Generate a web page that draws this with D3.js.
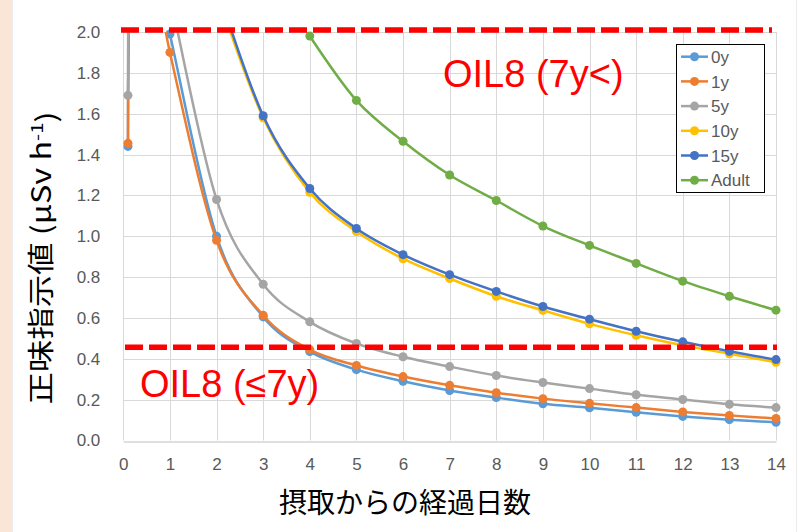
<!DOCTYPE html>
<html>
<head>
<meta charset="utf-8">
<script src="https://cdn.jsdelivr.net/npm/d3@7"></script>
<style>
  html, body { margin: 0; padding: 0; background: #ffffff; }
  svg { display: block; }
</style>
</head>
<body>
<svg id="chart" width="798" height="532"></svg>
<script>
// Days elapsed since intake (0.1 d and 0.25 d are the early measurements)
const days = [0.1, 0.25, 1, 2, 3, 4, 5, 6, 7, 8, 9, 10, 11, 12, 13, 14];

// Net reading (µSv/h) per age group; null = no value at that day
const seriesNames = ["0y", "1y", "5y", "10y", "15y", "Adult"];
const seriesColors = ["#5B9BD5", "#ED7D31", "#A5A5A5", "#FFC000", "#4472C4", "#70AD47"];
const values0y    = [1.44, 2.80, 1.99, 1.00, 0.605, 0.435, 0.347, 0.290, 0.245, 0.210, 0.180, 0.160, 0.138, 0.118, 0.102, 0.089];
const values1y    = [1.455, 2.75, 1.90, 0.98, 0.613, 0.445, 0.367, 0.313, 0.270, 0.234, 0.205, 0.182, 0.161, 0.140, 0.123, 0.108];
const values5y    = [1.69, 3.00, 2.18, 1.18, 0.765, 0.581, 0.475, 0.410, 0.362, 0.318, 0.284, 0.254, 0.224, 0.201, 0.177, 0.161];
const values10y   = [null, null, null, 2.20, 1.580, 1.215, 1.023, 0.890, 0.793, 0.706, 0.637, 0.571, 0.515, 0.466, 0.425, 0.383];
const values15y   = [null, null, null, 2.23, 1.590, 1.234, 1.038, 0.910, 0.812, 0.730, 0.656, 0.594, 0.535, 0.483, 0.437, 0.396];
const valuesAdult = [null, null, null, null, 2.35, 1.980, 1.665, 1.465, 1.300, 1.175, 1.050, 0.955, 0.867, 0.780, 0.706, 0.638];
const seriesValues = [values0y, values1y, values5y, values10y, values15y, valuesAdult];

// Axis ticks
const xTicks = [0, 1, 2, 3, 4, 5, 6, 7, 8, 9, 10, 11, 12, 13, 14];
const yTicks = [0.0, 0.2, 0.4, 0.6, 0.8, 1.0, 1.2, 1.4, 1.6, 1.8, 2.0];

// OIL8 reference levels
const oilLevels = [
  { level: 2.01, label: "OIL8 (7y<)" },
  { level: 0.456, label: "OIL8 (\u22647y)" }
];

const svg = d3.select("#chart");
const W = 798, H = 532;

// Slide background strip on the left and chart area
svg.append("rect").attr("x", 0).attr("y", 0).attr("width", W).attr("height", H).attr("fill", "#ffffff");
svg.append("rect").attr("x", 0).attr("y", 0).attr("width", 12).attr("height", H).attr("fill", "#FBE5D6");
svg.append("line").attr("x1", 12.5).attr("x2", 12.5).attr("y1", 0).attr("y2", H)
  .attr("stroke", "#ececec").attr("stroke-width", 1);
svg.append("line").attr("x1", 796.5).attr("x2", 796.5).attr("y1", 0).attr("y2", H)
  .attr("stroke", "#ececec").attr("stroke-width", 1);

const x = d3.scaleLinear().domain([0, 14]).range([123.3, 776]);
const y = d3.scaleLinear().domain([0, 2]).range([440.5, 32]);

const tickFont = "'Liberation Sans', Arial, sans-serif";

// Gridlines
svg.append("g").selectAll("line.h").data(yTicks.filter(v => v > 0)).join("line")
  .attr("x1", x(0)).attr("x2", x(14))
  .attr("y1", d => Math.round(y(d)) + 0.5).attr("y2", d => Math.round(y(d)) + 0.5)
  .attr("stroke", "#d9d9d9").attr("stroke-width", 1);
svg.append("g").selectAll("line.v").data(xTicks).join("line")
  .attr("x1", d => Math.round(x(d)) + 0.5).attr("x2", d => Math.round(x(d)) + 0.5)
  .attr("y1", y(2)).attr("y2", y(0))
  .attr("stroke", "#d9d9d9").attr("stroke-width", 1);

// Axes (labels only, no tick marks)
const xAxis = d3.axisBottom(x).tickValues(xTicks).tickSize(0).tickPadding(16).tickFormat(d3.format("d"));
const gx = svg.append("g").attr("transform", `translate(0,${Math.round(y(0)) + 0.5})`).call(xAxis);
gx.select(".domain").attr("stroke", "#bfbfbf").attr("stroke-width", 1);
gx.selectAll("text").attr("fill", "#595959").style("font-family", tickFont).style("font-size", "17px");

const yAxis = d3.axisLeft(y).tickValues(yTicks).tickSize(0).tickPadding(23).tickFormat(d3.format(".1f"));
const gy = svg.append("g").attr("transform", `translate(${x(0)},0)`).call(yAxis);
gy.select(".domain").remove();
gy.selectAll("text").attr("fill", "#595959").style("font-family", tickFont).style("font-size", "17px");

// Series lines (smoothed) clipped to the plot area
svg.append("clipPath").attr("id", "plotClip").append("rect")
  .attr("x", x(0) - 10).attr("y", y(2)).attr("width", x(14) - x(0) + 20).attr("height", y(0) - y(2) + 10);

const line = d3.line()
  .defined(d => d.v !== null)
  .x(d => x(d.day)).y(d => y(d.v))
  .curve(d3.curveCardinal.tension(0));

const seriesData = seriesNames.map((name, i) => ({
  name, color: seriesColors[i],
  points: days.map((day, j) => ({ day, v: seriesValues[i][j] }))
}));

const gSeries = svg.append("g");
seriesData.forEach(s => {
  const pts = s.points.filter(p => p.v !== null);
  gSeries.append("path").attr("d", line(pts))
    .attr("fill", "none").attr("stroke", s.color).attr("stroke-width", 2.5)
    .attr("clip-path", "url(#plotClip)");
  gSeries.append("g").selectAll("circle").data(pts.filter(p => p.v <= 2.0)).join("circle")
    .attr("cx", d => x(d.day)).attr("cy", d => y(d.v)).attr("r", 4.5)
    .attr("fill", s.color);
});

// OIL8 dashed reference lines
const oilExtent = [[121, 772], [125, 777]];
oilLevels.forEach((o, i) => {
  svg.append("line")
    .attr("x1", oilExtent[i][0]).attr("x2", oilExtent[i][1])
    .attr("y1", y(o.level)).attr("y2", y(o.level))
    .attr("stroke", "#FF0000").attr("stroke-width", 5.5)
    .attr("stroke-dasharray", "18 6");
});
svg.append("text").attr("x", 443).attr("y", 87).text(oilLevels[0].label)
  .attr("fill", "#FF0000").style("font-family", tickFont).style("font-size", "38px");
svg.append("text").attr("x", 140).attr("y", 397).text(oilLevels[1].label)
  .attr("fill", "#FF0000").style("font-family", tickFont).style("font-size", "38px");

// Legend
const lg = svg.append("g");
lg.append("rect").attr("x", 676.5).attr("y", 44.5).attr("width", 88).attr("height", 148)
  .attr("fill", "#ffffff").attr("stroke", "#000000").attr("stroke-width", 1);
seriesData.forEach((s, i) => {
  const cy = 56.7 + i * 24.7;
  lg.append("line").attr("x1", 681).attr("x2", 708).attr("y1", cy).attr("y2", cy)
    .attr("stroke", s.color).attr("stroke-width", 2.5);
  lg.append("circle").attr("cx", 694.5).attr("cy", cy).attr("r", 4.5).attr("fill", s.color);
  lg.append("text").attr("x", 711).attr("y", cy).attr("dy", "0.36em").text(s.name)
    .attr("fill", "#595959").style("font-family", tickFont).style("font-size", "17px");
});

// Axis titles
const titleFont = "'Noto Sans CJK JP', 'Liberation Sans', sans-serif";
svg.append("text").attr("x", 405).attr("y", 513).attr("text-anchor", "middle")
  .text("摂取からの経過日数")
  .attr("fill", "#000000").style("font-family", titleFont).style("font-size", "28px");

// Vertical title, stretched slightly along its run
const yTitle = svg.append("text")
  .attr("transform", "translate(51,258) rotate(-90) scale(1.2,1)")
  .attr("text-anchor", "middle")
  .attr("fill", "#000000").style("font-family", titleFont).style("font-size", "27px");
yTitle.append("tspan").text("正味指示値 (μSv h");
yTitle.append("tspan").attr("dy", "-0.45em").style("font-size", "17px").text("-1");
yTitle.append("tspan").attr("dy", "0.45em").text(")");
</script>
</body>
</html>
